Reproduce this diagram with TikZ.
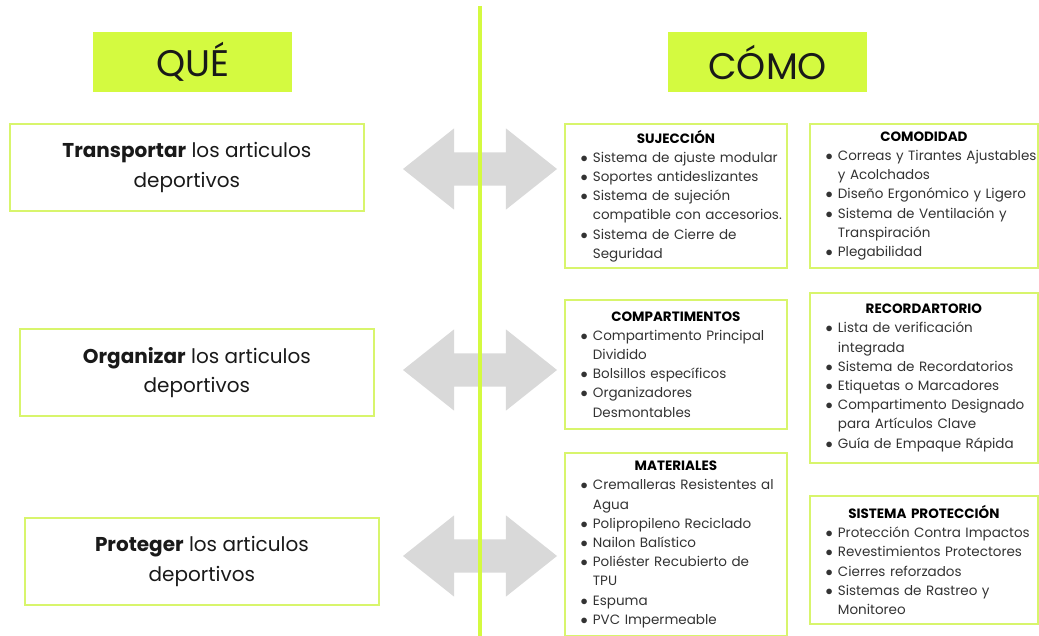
\documentclass[tikz,border=0pt]{standalone}
\usepackage{fontspec}
\setmainfont{Poppins}
\usepackage{enumitem}
\usetikzlibrary{shapes.arrows}
\definecolor{limefill}{HTML}{D4FA40}
\definecolor{limeline}{HTML}{D8F56C}
\definecolor{arrowgray}{HTML}{D9D9D9}
\definecolor{textdark}{HTML}{333333}
\newlist{howlist}{itemize}{1}
\setlist[howlist]{label=$\bullet$,leftmargin=28pt,labelsep=5pt,itemsep=0pt,topsep=0pt,parsep=0pt,partopsep=0pt,rightmargin=-16pt}
\newcommand{\howtitle}[1]{{\centering\bfseries\color{black}#1\par}}
\tikzset{
	headbox/.style={fill=limefill,minimum width=199pt,minimum height=60pt,anchor=north west,inner sep=0pt,text=black!90,font=\fontsize{37}{40}\selectfont},
	whatbox/.style={draw=limeline,line width=1.8pt,minimum width=354pt,minimum height=87pt,anchor=north west,align=center,inner sep=0pt,text=black!90,font=\fontsize{20}{29.5}\selectfont},
	howbox/.style={draw=limeline,line width=1.8pt,minimum height=#1,text width=222pt,align=left,anchor=north west,inner sep=0pt,text=textdark,font=\fontsize{13.5}{19.2}\selectfont},
	twoway/.style={double arrow,fill=arrowgray,minimum height=154pt,inner xsep=2pt,inner ysep=16.5pt,double arrow head extend=24pt,double arrow tip angle=77}
}
\begin{document}
\begin{tikzpicture}[x=1pt,y=-1pt]
	\useasboundingbox (0,0) rectangle (1039,636);
	\node[twoway] (arrT) at (480,169) {};
	\node[twoway] (arrO) at (480,370) {};
	\node[twoway] (arrP) at (480,556) {};
	\coordinate (top) at (480,6);
	\coordinate (bottom) at (480,640);
	\draw[limefill,line width=4pt] (top) -- (bottom);
	\node[headbox] (que) at (93,32) {QUÉ};
	\node[headbox] (como) at (668,32) {CÓMO};
	\node[whatbox] (transportar) at (9,123) {\textbf{Transportar} los articulos\\deportivos};
	\node[whatbox] (organizar) at (19,328) {\textbf{Organizar} los articulos\\deportivos};
	\node[whatbox] (proteger) at (24,517) {\textbf{Proteger} los articulos\\deportivos};
	\node[howbox=144pt] (sujecion) at (564,123) {\howtitle{SUJECCIÓN}
		\begin{howlist}
			\item Sistema de ajuste modular
			\item Soportes antideslizantes
			\item Sistema de sujeción\newline compatible con accesorios.
			\item Sistema de Cierre de\newline Seguridad
		\end{howlist}};
	\node[howbox=144pt,text width=228pt] (comodidad) at (809,123) {\howtitle{COMODIDAD}
		\begin{howlist}
			\item Correas y Tirantes Ajustables\newline y Acolchados
			\item Diseño Ergonómico y Ligero
			\item Sistema de Ventilación y\newline Transpiración
			\item Plegabilidad
		\end{howlist}};
	\node[howbox=129pt] (compartimentos) at (564,299) {\howtitle{COMPARTIMENTOS}
		\begin{howlist}
			\item Compartimento Principal\newline Dividido
			\item Bolsillos específicos
			\item Organizadores\newline Desmontables
		\end{howlist}};
	\node[howbox=170pt,text width=228pt] (recordatorio) at (809,292) {\howtitle{RECORDARTORIO}
		\begin{howlist}
			\item Lista de verificación\newline integrada
			\item Sistema de Recordatorios
			\item Etiquetas o Marcadores
			\item Compartimento Designado\newline para Artículos Clave
			\item Guía de Empaque Rápida
		\end{howlist}};
	\node[howbox=183pt] (materiales) at (564,452) {\howtitle{MATERIALES}
		\begin{howlist}
			\item Cremalleras Resistentes al\newline Agua
			\item Polipropileno Reciclado
			\item Nailon Balístico
			\item Poliéster Recubierto de\newline TPU
			\item Espuma
			\item PVC Impermeable
		\end{howlist}};
	\node[howbox=128pt,text width=228pt] (proteccion) at (809,495) {\howtitle{SISTEMA PROTECCIÓN}
		\begin{howlist}
			\item Protección Contra Impactos
			\item Revestimientos Protectores
			\item Cierres reforzados
			\item Sistemas de Rastreo y\newline Monitoreo
		\end{howlist}};
\end{tikzpicture}
\end{document}
